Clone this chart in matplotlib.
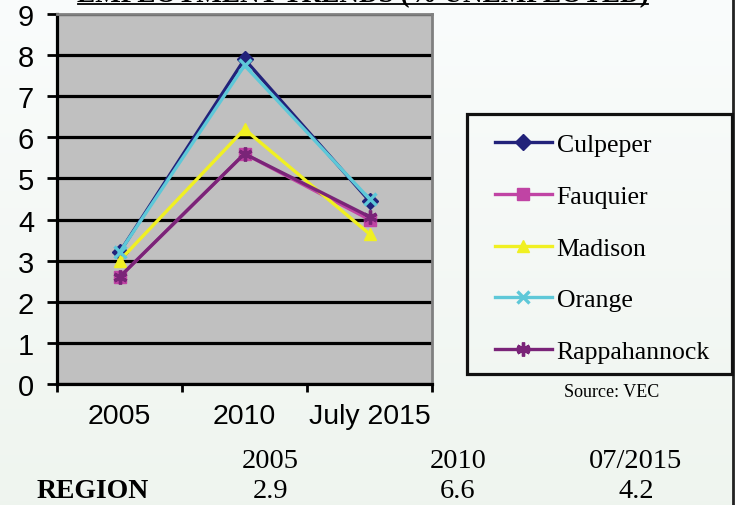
import matplotlib
matplotlib.use("Agg")
import matplotlib.pyplot as plt
import numpy as np
from matplotlib.lines import Line2D
from matplotlib.patches import Rectangle

# ---- data ----
categories = ["2005", "2010", "July 2015"]
culpeper = [3.2, 7.9, 4.45]
fauquier = [2.6, 5.6, 4.0]
madison = [3.0, 6.2, 3.65]
orange = [3.2, 7.75, 4.5]
rappahannock = [2.6, 5.6, 4.07]
series_names = ["Culpeper", "Fauquier", "Madison", "Orange", "Rappahannock"]
y_ticks = list(range(0, 10))
table_headers = ["2005", "2010", "07/2015"]
region_label = "REGION"
region_values = ["2.9", "6.6", "4.2"]
title = "EMPLOYMENT TRENDS (% UNEMPLOYED)"
source = "Source: VEC"

W, H = 735, 506
fig = plt.figure(figsize=(W / 100, H / 100), dpi=100)

def fx(px):
    return px / W

def fy(py):
    return 1 - py / H

# background gradient
bg = fig.add_axes([0, 0, 1, 1], zorder=-10)
grad = np.linspace(0, 1, 256).reshape(-1, 1)
top = np.array([0.980, 0.988, 0.988])
bot = np.array([0.937, 0.960, 0.937])
img = top[None, None, :] * (1 - grad[:, :, None]) + bot[None, None, :] * grad[:, :, None]
bg.imshow(img, aspect="auto", extent=[0, 1, 0, 1])
bg.axis("off")

sans = ["Liberation Sans", "DejaVu Sans"]
serif = ["Liberation Serif", "DejaVu Serif"]

ax = fig.add_axes([fx(57), fy(385), fx(432) - fx(57), fy(15) - fy(385)])
ax.set_facecolor("#C0C0C0")

styles = [
    ("#22227A", "D", 8),
    ("#C044A4", "s", 8),
    ("#F0F022", "^", 9),
    ("#5EC8D8", "x", 9),
    ("#7A2478", (6, 2, 0), 10),
]
data = [culpeper, fauquier, madison, orange, rappahannock]
xpos = np.arange(len(categories)) + 0.5
handles = []
for name, vals, (col, mk, ms) in zip(series_names, data, styles):
    (ln,) = ax.plot(xpos, vals, color=col, lw=2.4, marker=mk, markersize=ms,
                    markeredgewidth=2.4 if mk in ("x", (6, 2, 0)) else 1,
                    markerfacecolor=col, markeredgecolor=col, label=name,
                    zorder=3)
    handles.append(ln)

ax.set_xlim(0, 3)
ax.set_ylim(0, 9)
ax.set_yticks(y_ticks)
ax.set_yticklabels([str(t) for t in y_ticks], fontsize=21, family=sans)
ax.yaxis.grid(True, color="black", lw=2.3)
ax.set_axisbelow(True)
ax.tick_params(axis="y", direction="out", length=7.5, width=2, pad=9, color="black")

ax.set_xticks([0, 1, 2, 3])
ax.set_xticklabels([])
ax.set_xticks(xpos, minor=True)
ax.set_xticklabels(categories, minor=True, fontsize=20.5, family=sans)
ax.tick_params(axis="x", which="major", direction="out", length=6, width=2, color="black")
ax.tick_params(axis="x", which="minor", length=0, pad=14)

for s in ("left", "bottom"):
    ax.spines[s].set_color("black")
    ax.spines[s].set_linewidth(2.3)
for s in ("top", "right"):
    ax.spines[s].set_color("#808080")
    ax.spines[s].set_linewidth(2)

# legend box
fig.add_artist(Rectangle((fx(467), fy(375)), fx(732) - fx(467), fy(115) - fy(375),
                         transform=fig.transFigure, fill=False, edgecolor="#111111",
                         lw=2.3, zorder=5))
leg = fig.legend(handles=handles, loc="upper left",
                 bbox_to_anchor=(fx(495), fy(134)), frameon=False,
                 prop={"family": serif, "size": 18.5}, handlelength=2.2,
                 handletextpad=0.2, labelspacing=1.12, borderpad=0,
                 borderaxespad=0)

# right vertical line
fig.add_artist(Line2D([fx(733), fx(733)], [0, 1], transform=fig.transFigure,
                      color="#222222", lw=2))

# title (cut at top in the reference) with underline
fig.text(fx(363), fy(2.5), title, ha="center", va="baseline", fontsize=19.5,
         fontweight="bold", family=serif)
fig.add_artist(Line2D([fx(78), fx(648)], [fy(4.6), fy(4.6)], transform=fig.transFigure,
                      color="black", lw=1.3))

fig.text(fx(612), fy(393), source, ha="center", va="center", fontsize=13, family=serif)

# table below
col_x = [270, 458, 636]
for x, h, v in zip(col_x, table_headers, region_values):
    fig.text(fx(x), fy(462), h, ha="center", va="center", fontsize=20.5, family=serif)
    fig.text(fx(x), fy(492), v, ha="center", va="center", fontsize=20.5, family=serif)
fig.text(fx(37), fy(492), region_label, ha="left", va="center", fontsize=20,
         fontweight="bold", family=serif)

fig.savefig("out.png", dpi=100)
